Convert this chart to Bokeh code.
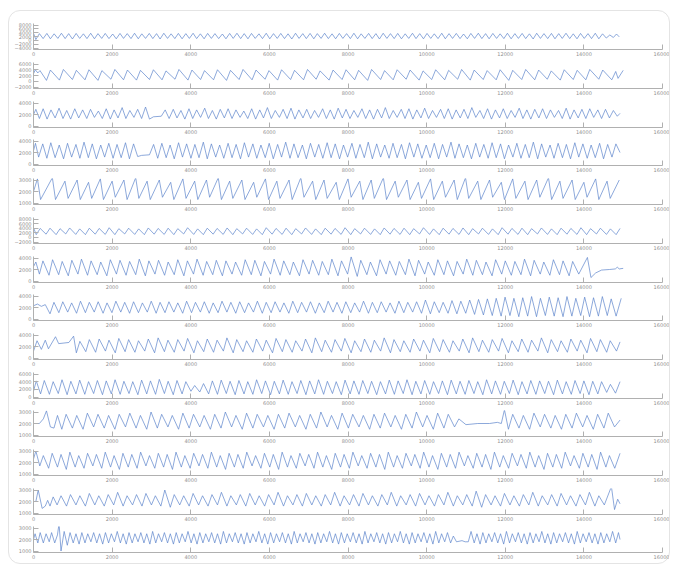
from bokeh.plotting import figure
from bokeh.layouts import column
from bokeh.models import Range1d, FixedTicker
from bokeh.embed import file_html
from bokeh.resources import INLINE

x_ticks = [0, 2000, 4000, 6000, 8000, 10000, 12000, 14000, 16000]

y_ticks = [
    [-4000, -2000, 0, 2000, 4000, 6000, 8000],
    [-2000, 0, 2000, 4000, 6000],
    [0, 2000, 4000],
    [0, 2000, 4000],
    [1000, 2000, 3000],
    [-2000, 0, 2000, 4000, 6000, 8000],
    [0, 2000, 4000],
    [0, 2000, 4000],
    [0, 2000, 4000],
    [0, 2000, 4000, 6000],
    [1000, 2000, 3000],
    [1000, 2000, 3000],
    [1000, 2000, 3000],
    [1000, 2000, 3000],
]

wave_01 = [(0,3700),(60,400),(150,3500),(245,900),(340,3600),(430,800),(525,3400),(620,1000),(710,3700),(805,900),(895,3500),(990,700),(1085,3600),(1175,1000),(1270,3400),(1360,900),(1455,3700),(1550,800),(1640,3500),(1735,1000),(1825,3600),(1920,900),(2015,3300),(2105,800),(2200,3600),(2290,1000),(2385,3500),(2480,900),(2570,3700),(2665,800),(2755,3400),(2850,1000),(2945,3600),(3035,900),(3130,3500),(3220,700),(3315,3700),(3410,1000),(3500,3400),(3595,900),(3685,3600),(3780,800),(3875,3500),(3965,1000),(4060,3700),(4150,900),(4245,3400),(4340,800),(4430,3600),(4525,1000),(4615,3500),(4710,900),(4805,3300),(4895,800),(4990,3600),(5080,1000),(5175,3700),(5270,900),(5360,3500),(5455,800),(5545,3600),(5640,1000),(5735,3400),(5825,900),(5920,3700),(6010,800),(6105,3500),(6200,1000),(6290,3600),(6385,900),(6475,3400),(6570,700),(6665,3700),(6755,1000),(6850,3500),(6940,900),(7035,3600),(7130,800),(7220,3500),(7315,1000),(7405,3700),(7500,900),(7595,3400),(7685,800),(7780,3600),(7870,1000),(7965,3500),(8060,900),(8150,3700),(8245,800),(8335,3400),(8430,1000),(8525,3600),(8615,900),(8710,3500),(8800,700),(8895,3700),(8990,1000),(9080,3500),(9175,900),(9265,3600),(9360,800),(9455,3400),(9545,1000),(9640,3700),(9730,900),(9825,3500),(9920,800),(10010,3600),(10105,1000),(10195,3400),(10290,900),(10385,3700),(10475,800),(10570,3500),(10660,1000),(10755,3600),(10850,900),(10940,3300),(11035,800),(11125,3600),(11220,1000),(11315,3700),(11405,900),(11500,3500),(11590,800),(11685,3600),(11780,1000),(11870,3400),(11965,900),(12055,3700),(12150,800),(12245,3500),(12335,1000),(12430,3600),(12520,900),(12615,3400),(12710,700),(12800,3700),(12895,1000),(12985,3500),(13080,900),(13175,3600),(13265,800),(13360,3500),(13450,1000),(13545,3700),(13640,900),(13730,3400),(13825,800),(13915,3600),(14010,1000),(14105,3500),(14195,900),(14290,3700),(14380,800),(14475,3400),(14570,1200),(14660,2800),(14750,1500),(14830,3300),(14900,1800)]

wave_02 = [(0,2600),(45,4000),(110,2900),(165,3700),(330,300),(430,3900),(660,400),(760,4100),(990,600),(1090,3800),(1310,500),(1410,4000),(1640,300),(1740,3700),(1970,700),(2070,4100),(2290,500),(2390,3900),(2620,400),(2720,3800),(2950,600),(3050,4000),(3270,500),(3370,3600),(3600,700),(3700,4100),(3930,400),(4030,3900),(4250,600),(4350,3700),(4580,500),(4680,4000),(4910,300),(5010,3800),(5230,600),(5330,4100),(5560,500),(5660,3900),(5890,700),(5990,3700),(6210,400),(6310,4000),(6540,600),(6640,3800),(6870,500),(6970,4100),(7190,700),(7290,3600),(7520,400),(7620,3900),(7850,600),(7950,4000),(8170,500),(8270,3800),(8500,300),(8600,4100),(8830,600),(8930,3700),(9150,500),(9250,4000),(9480,700),(9580,3900),(9810,400),(9910,3600),(10130,600),(10230,4000),(10460,500),(10560,3800),(10790,700),(10890,4100),(11110,400),(11210,3900),(11440,600),(11540,3700),(11770,500),(11870,4000),(12090,300),(12190,3800),(12420,600),(12520,4100),(12750,500),(12850,3900),(13070,700),(13170,3600),(13400,400),(13500,4000),(13730,600),(13830,3800),(14050,500),(14150,4100),(14380,700),(14480,3900),(14710,500),(14810,3400),(14870,1000),(15000,3800)]

wave_03 = [(0,2000),(60,2900),(150,1300),(245,3000),(345,1200),(445,2800),(550,1400),(650,3100),(750,1300),(845,2700),(945,1200),(1050,3000),(1150,1400),(1250,2800),(1355,1300),(1450,2900),(1550,1500),(1650,2600),(1750,1300),(1850,3000),(1955,1200),(2050,2800),(2150,1400),(2255,3200),(2350,1300),(2450,2700),(2555,1500),(2650,2900),(2750,1300),(2850,3300),(2950,1200),(3050,1600),(3250,1700),(3350,2800),(3450,1300),(3555,2900),(3650,1400),(3750,2700),(3850,1200),(3955,3000),(4050,1300),(4150,2800),(4250,1500),(4355,3100),(4450,1300),(4550,2700),(4650,1200),(4750,2900),(4855,1400),(4950,3000),(5050,1300),(5150,2800),(5255,1500),(5350,2600),(5450,1300),(5550,3000),(5650,1200),(5755,2800),(5850,1400),(5950,3200),(6050,1300),(6150,2700),(6255,1500),(6350,2900),(6450,1300),(6550,3100),(6650,1200),(6750,2800),(6855,1400),(6950,2900),(7050,1300),(7150,2700),(7250,1500),(7355,3000),(7450,1300),(7550,2800),(7650,1200),(7750,3100),(7855,1400),(7950,2900),(8050,1300),(8150,2700),(8250,1500),(8355,3000),(8450,1300),(8550,2800),(8650,1200),(8750,2900),(8855,1400),(8950,3200),(9050,1300),(9150,2700),(9250,1500),(9355,2900),(9450,1300),(9550,3000),(9650,1200),(9750,2800),(9855,1400),(9950,3100),(10050,1300),(10150,2700),(10250,1500),(10355,2900),(10450,1300),(10550,3000),(10650,1200),(10750,2800),(10855,1400),(10950,2900),(11050,1300),(11150,3200),(11250,1500),(11355,2700),(11450,1300),(11550,3000),(11650,1200),(11750,2800),(11855,1400),(11950,3000),(12050,1300),(12150,2700),(12250,1500),(12355,3100),(12450,1300),(12550,2800),(12650,1200),(12750,2900),(12855,1400),(12950,3000),(13050,1300),(13150,2800),(13250,1500),(13355,2700),(13450,1300),(13550,3100),(13650,1200),(13750,2800),(13855,1400),(13950,2900),(14050,1300),(14150,3000),(14250,1500),(14355,2800),(14450,1300),(14550,2900),(14650,1400),(14750,2700),(14850,1700),(14920,2200)]

wave_04 = [(0,2300),(50,3600),(130,1200),(235,3500),(340,1000),(440,3700),(550,1100),(655,3300),(765,900),(865,3600),(970,1200),(1080,3400),(1180,1000),(1285,3800),(1395,1100),(1495,3500),(1600,900),(1710,3300),(1810,1200),(1915,3600),(2025,1000),(2125,3400),(2230,1100),(2340,3700),(2440,900),(2545,3500),(2650,1300),(2750,1500),(2950,1600),(3055,3400),(3160,1000),(3265,3600),(3375,1100),(3475,3300),(3580,900),(3690,3700),(3790,1200),(3895,3500),(4005,1000),(4105,3400),(4210,1100),(4320,3800),(4420,900),(4525,3500),(4635,1200),(4735,3300),(4840,1000),(4950,3600),(5050,1100),(5155,3400),(5265,900),(5365,3700),(5470,1200),(5580,3500),(5680,1000),(5785,3300),(5895,1100),(5995,3600),(6100,900),(6210,3400),(6310,1200),(6415,3800),(6525,1000),(6625,3500),(6730,1100),(6840,3300),(6940,900),(7045,3600),(7155,1200),(7255,3400),(7360,1000),(7470,3700),(7570,1100),(7675,3500),(7785,900),(7885,3300),(7990,1200),(8100,3600),(8200,1000),(8305,3400),(8415,1100),(8515,3800),(8620,900),(8730,3500),(8830,1200),(8935,3300),(9045,1000),(9145,3600),(9250,1100),(9360,3400),(9460,900),(9565,3700),(9675,1200),(9775,3500),(9880,1000),(9990,3300),(10090,1100),(10195,3600),(10305,900),(10405,3400),(10510,1200),(10620,3800),(10720,1000),(10825,3500),(10935,1100),(11035,3300),(11140,900),(11250,3600),(11350,1200),(11455,3400),(11565,1000),(11665,3700),(11770,1100),(11880,3500),(11980,900),(12085,3300),(12195,1200),(12295,3600),(12400,1000),(12510,3400),(12610,1100),(12715,3800),(12825,900),(12925,3500),(13030,1200),(13140,3300),(13240,1000),(13345,3600),(13455,1100),(13555,3400),(13660,900),(13770,3700),(13870,1200),(13975,3500),(14085,1000),(14185,3300),(14290,1100),(14400,3600),(14500,900),(14605,3400),(14715,1200),(14815,3500),(14920,2000)]

wave_05 = [(0,2000),(100,3100),(180,1300),(480,3200),(560,1300),(800,2900),(880,1400),(1110,3000),(1190,1300),(1400,2800),(1480,1400),(1700,3100),(1780,1300),(2000,2900),(2080,1500),(2300,3000),(2380,1300),(2600,3200),(2680,1400),(2890,2900),(2970,1300),(3200,3000),(3280,1500),(3490,2800),(3570,1300),(3800,3100),(3880,1400),(4100,2900),(4180,1300),(4400,3000),(4480,1500),(4700,3200),(4780,1300),(4990,2900),(5070,1400),(5300,3000),(5380,1300),(5600,2800),(5680,1500),(5900,3100),(5980,1300),(6190,2900),(6270,1400),(6500,3000),(6580,1300),(6800,3200),(6880,1500),(7100,2900),(7180,1300),(7390,3000),(7470,1400),(7700,2800),(7780,1300),(8000,3100),(8080,1500),(8300,2900),(8380,1300),(8590,3000),(8670,1400),(8900,3200),(8980,1300),(9200,2900),(9280,1500),(9500,3000),(9580,1300),(9790,2800),(9870,1400),(10100,3100),(10180,1300),(10400,2900),(10480,1500),(10700,3000),(10780,1300),(10990,3200),(11070,1400),(11300,2900),(11380,1300),(11600,3000),(11680,1500),(11900,2800),(11980,1300),(12190,3100),(12270,1400),(12500,2900),(12580,1300),(12800,3000),(12880,1500),(13100,3200),(13180,1300),(13390,2900),(13470,1400),(13700,3000),(13780,1300),(14000,2800),(14080,1500),(14300,3100),(14380,1300),(14590,2900),(14670,1400),(14900,3000)]

wave_06 = [(0,4200),(70,1200),(170,3900),(320,1400),(420,4000),(575,1200),(675,3800),(820,1500),(920,4100),(1075,1300),(1175,3700),(1320,1200),(1420,4000),(1570,1400),(1670,3900),(1825,1300),(1925,4200),(2070,1200),(2170,3800),(2320,1500),(2420,4000),(2575,1300),(2675,3700),(2820,1200),(2920,4100),(3070,1400),(3170,3900),(3325,1300),(3425,4000),(3570,1200),(3670,3800),(3820,1500),(3920,4200),(4075,1300),(4175,3700),(4320,1200),(4420,4000),(4570,1400),(4670,3900),(4825,1300),(4925,4100),(5070,1200),(5170,3800),(5320,1500),(5420,4000),(5575,1300),(5675,3700),(5820,1200),(5920,4200),(6070,1400),(6170,3900),(6325,1300),(6425,4000),(6570,1200),(6670,3800),(6820,1500),(6920,4100),(7075,1300),(7175,3700),(7320,1200),(7420,4000),(7570,1400),(7670,3900),(7825,1300),(7925,4200),(8070,1200),(8170,3800),(8320,1500),(8420,4000),(8575,1300),(8675,3700),(8820,1200),(8920,4100),(9070,1400),(9170,3900),(9325,1300),(9425,4000),(9570,1200),(9670,3800),(9820,1500),(9920,4200),(10075,1300),(10175,3700),(10320,1200),(10420,4000),(10570,1400),(10670,3900),(10825,1300),(10925,4100),(11070,1200),(11170,3800),(11320,1500),(11420,4000),(11575,1300),(11675,3700),(11820,1200),(11920,4200),(12070,1400),(12170,3900),(12325,1300),(12425,4000),(12570,1200),(12670,3800),(12820,1500),(12920,4100),(13075,1300),(13175,3700),(13320,1200),(13420,4000),(13570,1400),(13670,3900),(13825,1300),(13925,4200),(14070,1200),(14170,3800),(14320,1500),(14420,4000),(14575,1300),(14675,3700),(14820,1200),(14920,3900)]

wave_07 = [(0,2500),(60,3300),(150,1200),(240,3500),(395,1000),(485,3700),(640,1100),(730,3400),(885,900),(975,3600),(1130,1200),(1220,3800),(1375,1000),(1465,3500),(1620,1100),(1710,3300),(1865,900),(1955,3700),(2110,1200),(2200,3600),(2355,1000),(2445,3400),(2600,1100),(2690,3800),(2845,900),(2935,3500),(3090,1200),(3180,3600),(3335,1000),(3425,3300),(3580,1100),(3670,3700),(3825,900),(3915,3500),(4070,1200),(4160,3800),(4315,1000),(4405,3400),(4560,1100),(4650,3600),(4805,900),(4895,3500),(5050,1200),(5140,3300),(5295,1000),(5385,3700),(5540,1100),(5630,3600),(5785,900),(5875,3400),(6030,1200),(6120,3800),(6275,1000),(6365,3500),(6520,1100),(6610,3300),(6765,900),(6855,3700),(7010,1200),(7100,3600),(7255,1000),(7345,3400),(7500,1100),(7590,3800),(7745,900),(7835,3500),(7990,1200),(8080,4200),(8235,800),(8325,3600),(8480,1100),(8570,3300),(8725,900),(8815,3700),(8970,1200),(9060,3500),(9215,1000),(9305,3400),(9460,1100),(9550,3800),(9705,900),(9795,3600),(9950,1200),(10040,3300),(10195,1000),(10285,3700),(10440,1100),(10530,3500),(10685,900),(10775,3400),(10930,1200),(11020,3800),(11175,1000),(11265,3600),(11420,1100),(11510,3300),(11665,900),(11755,3700),(11910,1200),(12000,3500),(12155,1000),(12245,3400),(12400,1100),(12490,3800),(12645,900),(12735,3600),(12890,1200),(12980,3300),(13135,1000),(13225,3700),(13380,1100),(13470,3500),(13625,900),(13715,3400),(13870,1200),(14090,4100),(14180,600),(14300,1400),(14450,1900),(14650,2000),(14800,2100),(14850,2400),(14900,2100),(15000,2200)]

wave_08 = [(0,2300),(100,2600),(200,2200),(300,2500),(420,900),(520,2900),(645,1100),(745,3000),(870,1200),(970,2800),(1095,1000),(1195,3100),(1320,1100),(1420,2900),(1545,1200),(1645,3000),(1770,1000),(1870,2800),(1995,1100),(2095,3100),(2220,1200),(2320,2900),(2445,1000),(2545,3000),(2670,1100),(2770,2800),(2895,1200),(2995,3100),(3120,1000),(3220,2900),(3345,1100),(3445,3000),(3570,1200),(3670,2800),(3795,1000),(3895,3100),(4020,1100),(4120,2900),(4245,1200),(4345,3000),(4470,1000),(4570,2800),(4695,1100),(4795,3100),(4920,1200),(5020,2900),(5145,1000),(5245,3000),(5370,1100),(5470,2800),(5595,1200),(5695,3100),(5820,1000),(5920,2900),(6045,1100),(6145,3000),(6270,1200),(6370,2800),(6495,1000),(6595,3100),(6720,1100),(6820,2900),(6945,1200),(7045,3000),(7170,1000),(7270,2800),(7395,1100),(7495,3100),(7620,1200),(7720,2900),(7845,1000),(7945,3000),(8070,1100),(8170,2800),(8295,1200),(8395,3100),(8520,1000),(8620,2900),(8745,1100),(8845,3000),(8970,1200),(9070,2800),(9195,1000),(9295,3100),(9420,1100),(9520,2900),(9645,1200),(9745,3000),(9870,1000),(9970,3300),(10095,900),(10195,3000),(10320,1100),(10420,2900),(10545,1000),(10645,3200),(10770,900),(10870,3100),(10995,1000),(11095,3300),(11220,800),(11320,3400),(11445,700),(11545,3500),(11670,600),(11770,3600),(11895,500),(11995,3800),(12120,600),(12220,3600),(12345,400),(12445,3700),(12570,500),(12670,3900),(12795,400),(12895,3600),(13020,600),(13120,3800),(13245,500),(13345,3700),(13470,400),(13570,3900),(13695,500),(13795,3600),(13920,600),(14020,3800),(14145,400),(14245,3700),(14370,500),(14470,3900),(14595,600),(14695,3500),(14820,500),(14950,3600)]

wave_09 = [(0,1200),(90,3000),(200,1500),(300,3100),(380,1600),(560,3700),(640,2500),(900,2700),(1020,3800),(1090,900),(1180,2900),(1330,1100),(1420,3200),(1580,1000),(1670,3300),(1830,1200),(1920,3100),(2080,900),(2170,3400),(2330,1100),(2420,3200),(2580,1000),(2670,3000),(2830,1200),(2920,3300),(3080,900),(3170,3500),(3330,1100),(3420,3100),(3580,1000),(3670,3200),(3830,1200),(3920,3400),(4080,900),(4170,3000),(4330,1100),(4420,3300),(4580,1000),(4670,3100),(4830,1200),(4920,3500),(5080,900),(5170,3200),(5330,1100),(5420,3000),(5580,1000),(5670,3300),(5830,1200),(5920,3100),(6080,900),(6170,3400),(6330,1100),(6420,3200),(6580,1000),(6670,3000),(6830,1200),(6920,3300),(7080,900),(7170,3500),(7330,1100),(7420,3100),(7580,1000),(7670,3200),(7830,1200),(7920,3400),(8080,900),(8170,3000),(8330,1100),(8420,3300),(8580,1000),(8670,3100),(8830,1200),(8920,3500),(9080,900),(9170,3200),(9330,1100),(9420,3000),(9580,1000),(9670,3300),(9830,1200),(9920,3100),(10080,900),(10170,3400),(10330,1100),(10420,3200),(10580,1000),(10670,3000),(10830,1200),(10920,3300),(11080,900),(11170,3500),(11330,1100),(11420,3100),(11580,1000),(11670,3200),(11830,1200),(11920,3400),(12080,900),(12170,3000),(12330,1100),(12420,3300),(12580,1000),(12670,3100),(12830,1200),(12920,3500),(13080,900),(13170,3200),(13330,1100),(13420,3000),(13580,1000),(13670,3300),(13830,1200),(13920,3100),(14080,900),(14170,3400),(14330,1100),(14420,3200),(14580,1000),(14670,3000),(14830,1200),(14920,2800)]

wave_10 = [(0,1500),(70,4200),(180,800),(275,4300),(405,700),(500,4000),(630,900),(725,4500),(855,600),(950,4100),(1080,800),(1175,4400),(1305,700),(1400,4000),(1530,900),(1625,4300),(1755,600),(1850,4200),(1980,800),(2075,4500),(2205,700),(2300,4100),(2430,900),(2525,4000),(2655,600),(2750,4400),(2880,800),(2975,4200),(3105,700),(3200,4600),(3330,900),(3425,4100),(3555,600),(3650,4300),(3780,800),(3875,4000),(4005,1500),(4100,3000),(4230,1300),(4325,3500),(4455,800),(4550,4200),(4680,700),(4775,4400),(4905,900),(5000,4100),(5130,600),(5225,4300),(5355,800),(5450,4000),(5580,700),(5675,4500),(5805,900),(5900,4200),(6030,600),(6125,4100),(6255,800),(6350,4400),(6480,700),(6575,4000),(6705,900),(6800,4300),(6930,600),(7025,4200),(7155,800),(7250,4500),(7380,700),(7475,4100),(7605,900),(7700,4000),(7830,600),(7925,4400),(8055,800),(8150,4200),(8280,700),(8375,4300),(8505,900),(8600,4100),(8730,600),(8825,4000),(8955,800),(9050,4400),(9180,700),(9275,4200),(9405,900),(9500,4500),(9630,600),(9725,4100),(9855,800),(9950,4300),(10080,700),(10175,4000),(10305,900),(10400,4200),(10530,600),(10625,4400),(10755,800),(10850,4100),(10980,700),(11075,4300),(11205,900),(11300,4000),(11430,600),(11525,4500),(11655,800),(11750,4200),(11880,700),(11975,4100),(12105,900),(12200,4400),(12330,600),(12425,4000),(12555,800),(12650,4300),(12780,700),(12875,4200),(13005,900),(13100,4100),(13230,600),(13325,4400),(13455,800),(13550,4000),(13680,700),(13775,4300),(13905,900),(14000,4200),(14130,600),(14225,4100),(14355,800),(14450,4000),(14580,1200),(14675,3300),(14805,1000),(14920,4000)]

wave_11 = [(0,2000),(150,2000),(250,2400),(330,3100),(430,1700),(520,1600),(610,2700),(720,1500),(830,2800),(990,1600),(1100,2700),(1260,1500),(1370,2900),(1530,1700),(1640,2800),(1800,1600),(1910,2700),(2070,1500),(2180,2800),(2340,1700),(2450,2900),(2610,1600),(2720,2700),(2880,1500),(2990,3000),(3150,1600),(3260,2800),(3420,1700),(3530,2700),(3690,1500),(3800,2900),(3960,1600),(4070,2800),(4230,1700),(4340,2700),(4500,1500),(4610,2800),(4770,1600),(4880,3000),(5040,1700),(5150,2700),(5310,1500),(5420,2900),(5580,1600),(5690,2800),(5850,1700),(5960,2700),(6120,1500),(6230,2800),(6390,1600),(6500,2900),(6660,1700),(6770,2700),(6930,1500),(7040,2800),(7200,1600),(7310,3000),(7470,1700),(7580,2700),(7740,1500),(7850,2900),(8010,1600),(8120,2800),(8280,1700),(8390,2700),(8550,1500),(8660,2800),(8820,1600),(8930,2900),(9090,1700),(9200,2700),(9360,1500),(9470,2800),(9630,1600),(9740,3000),(9900,1700),(10010,2700),(10170,1500),(10280,2900),(10440,1600),(10550,2800),(10710,1700),(10820,2400),(11000,1900),(11300,2000),(11600,2000),(11800,2100),(11900,2000),(11980,3200),(12080,1500),(12190,2800),(12350,1600),(12460,2700),(12620,1500),(12730,2900),(12890,1700),(13000,2800),(13160,1600),(13270,2700),(13430,1500),(13540,2800),(13700,1600),(13810,2900),(13970,1700),(14080,2700),(14240,1500),(14350,2800),(14510,1600),(14620,2900),(14780,1700),(14920,2300)]

wave_12 = [(0,2300),(60,3000),(160,1700),(250,2600),(385,1500),(475,2800),(610,1600),(700,2700),(835,1400),(925,2900),(1060,1600),(1150,2600),(1285,1500),(1375,2800),(1510,1700),(1600,2700),(1735,1500),(1825,2900),(1960,1600),(2050,2600),(2185,1400),(2275,2800),(2410,1600),(2500,2700),(2635,1500),(2725,2900),(2860,1700),(2950,2600),(3085,1500),(3175,2800),(3310,1600),(3400,2700),(3535,1400),(3625,2900),(3760,1600),(3850,2600),(3985,1500),(4075,2800),(4210,1700),(4300,2700),(4435,1500),(4525,2900),(4660,1600),(4750,2600),(4885,1400),(4975,2800),(5110,1600),(5200,2700),(5335,1500),(5425,2900),(5560,1700),(5650,2600),(5785,1500),(5875,2800),(6010,1600),(6100,2700),(6235,1400),(6325,2900),(6460,1600),(6550,2600),(6685,1500),(6775,2800),(6910,1700),(7000,2700),(7135,1500),(7225,2900),(7360,1600),(7450,2600),(7585,1400),(7675,2800),(7810,1600),(7900,2700),(8035,1500),(8125,2900),(8260,1700),(8350,2600),(8485,1500),(8575,2800),(8710,1600),(8800,2700),(8935,1400),(9025,2900),(9160,1600),(9250,2600),(9385,1500),(9475,2800),(9610,1700),(9700,2700),(9835,1500),(9925,2900),(10060,1600),(10150,2600),(10285,1400),(10375,2800),(10510,1600),(10600,2700),(10735,1500),(10825,2900),(10960,1700),(11050,2600),(11185,1500),(11275,2800),(11410,1600),(11500,2700),(11635,1400),(11725,2900),(11860,1600),(11950,2600),(12085,1500),(12175,2800),(12310,1700),(12400,2700),(12535,1500),(12625,2900),(12760,1600),(12850,2600),(12985,1400),(13075,2800),(13210,1600),(13300,2700),(13435,1500),(13525,2900),(13660,1700),(13750,2600),(13885,1500),(13975,2800),(14110,1600),(14200,2700),(14335,1400),(14425,2900),(14560,1600),(14650,2600),(14785,1500),(14920,2800)]

wave_13 = [(0,2000),(60,2000),(120,3000),(220,1400),(300,1600),(360,2100),(420,1600),(500,2400),(600,1700),(700,2500),(840,1600),(940,2600),(1080,1700),(1180,2500),(1320,1600),(1420,2700),(1560,1700),(1660,2500),(1800,1600),(1900,2600),(2040,1700),(2140,2800),(2280,1600),(2380,2500),(2520,1700),(2620,2600),(2760,1600),(2860,2700),(3000,1700),(3100,2500),(3240,1600),(3340,3000),(3480,1500),(3580,2600),(3720,1700),(3820,2500),(3960,1600),(4060,2700),(4200,1700),(4300,2500),(4440,1600),(4540,2600),(4680,1700),(4780,2800),(4920,1600),(5020,2500),(5160,1700),(5260,2600),(5400,1600),(5500,2700),(5640,1700),(5740,2500),(5880,1600),(5980,2600),(6120,1700),(6220,2800),(6360,1600),(6460,2500),(6600,1700),(6700,2600),(6840,1600),(6940,2700),(7080,1700),(7180,2500),(7320,1600),(7420,2600),(7560,1700),(7660,2800),(7800,1600),(7900,2500),(8040,1700),(8140,2600),(8280,1600),(8380,2700),(8520,1700),(8620,2500),(8760,1600),(8860,2600),(9000,1700),(9100,2800),(9240,1600),(9340,2500),(9480,1700),(9580,2600),(9720,1600),(9820,2700),(9960,1700),(10060,2500),(10200,1600),(10300,2600),(10440,1700),(10540,2800),(10680,1600),(10780,2500),(10920,1700),(11020,2600),(11160,1600),(11260,2900),(11400,1500),(11500,2600),(11640,1700),(11740,2500),(11880,1600),(11980,2700),(12120,1700),(12220,2500),(12360,1600),(12460,2600),(12600,1700),(12700,2800),(12840,1600),(12940,2500),(13080,1700),(13180,2600),(13320,1600),(13420,2700),(13560,1700),(13660,2500),(13800,1600),(13900,2600),(14040,1700),(14140,2800),(14280,1600),(14380,2500),(14520,1700),(14700,3300),(14780,1300),(14860,2200),(14920,1800)]

wave_14 = [(0,2000),(40,2500),(110,1700),(170,2600),(250,1700),(320,2500),(400,1800),(460,2600),(540,1700),(610,2400),(650,3400),(700,1000),(780,2700),(860,1500),(930,2600),(1010,1700),(1080,2500),(1160,1600),(1230,2600),(1310,1700),(1380,2500),(1460,1800),(1530,2600),(1610,1700),(1680,2500),(1760,1600),(1830,2600),(1910,1700),(1980,2500),(2060,1800),(2130,2700),(2210,1700),(2280,2500),(2360,1600),(2430,2600),(2510,1700),(2580,2500),(2660,1800),(2730,2600),(2810,1700),(2880,2500),(2960,1600),(3030,2700),(3110,1700),(3180,2500),(3260,1800),(3330,2600),(3410,1700),(3480,2500),(3560,1600),(3630,2600),(3710,1700),(3780,2500),(3860,1800),(3930,2700),(4010,1700),(4080,2500),(4160,1600),(4230,2600),(4310,1700),(4380,2500),(4460,1800),(4530,2600),(4610,1700),(4680,2500),(4760,1600),(4830,2700),(4910,1700),(4980,2500),(5060,1800),(5130,2600),(5210,1700),(5280,2500),(5360,1600),(5430,2600),(5510,1700),(5580,2500),(5660,1800),(5730,2700),(5810,1700),(5880,2500),(5960,1600),(6030,2600),(6110,1700),(6180,2500),(6260,1800),(6330,2600),(6410,1700),(6480,2500),(6560,1600),(6630,2700),(6710,1700),(6780,2500),(6860,1800),(6930,2600),(7010,1700),(7080,2500),(7160,1600),(7230,2600),(7310,1700),(7380,2500),(7460,1800),(7530,2700),(7610,1700),(7680,2500),(7760,1600),(7830,2600),(7910,1700),(7980,2500),(8060,1800),(8130,2600),(8210,1700),(8280,2500),(8360,1600),(8430,2700),(8510,1700),(8580,2500),(8660,1800),(8730,2600),(8810,1700),(8880,2500),(8960,1600),(9030,2600),(9110,1700),(9180,2500),(9260,1800),(9330,2700),(9410,1700),(9480,2500),(9560,1600),(9630,2600),(9710,1700),(9780,2500),(9860,1800),(9930,2600),(10010,1700),(10080,2500),(10160,1600),(10230,2700),(10310,1700),(10380,2500),(10460,1800),(10530,2600),(10610,1700),(10680,2300),(10760,1800),(10900,1900),(10980,1800),(11060,1800),(11130,2700),(11210,1700),(11280,2500),(11360,1600),(11430,2600),(11510,1700),(11580,2500),(11660,1800),(11730,2600),(11810,1700),(11880,2500),(11960,1600),(12030,2700),(12110,1700),(12180,2500),(12260,1800),(12330,2600),(12410,1700),(12480,2500),(12560,1600),(12630,2600),(12710,1700),(12780,2500),(12860,1800),(12930,2700),(13010,1700),(13080,2500),(13160,1600),(13230,2600),(13310,1700),(13380,2500),(13460,1800),(13530,2600),(13610,1700),(13680,2500),(13760,1600),(13830,2700),(13910,1700),(13980,2500),(14060,1800),(14130,2600),(14210,1700),(14280,2500),(14360,1600),(14430,2600),(14510,1700),(14580,2500),(14660,1800),(14730,2700),(14810,1700),(14880,2600),(14920,2000)]

waves = [wave_01, wave_02, wave_03, wave_04, wave_05, wave_06, wave_07,
         wave_08, wave_09, wave_10, wave_11, wave_12, wave_13, wave_14]

LINE = "#5b84cc"
AXIS = "#b0b0b0"
LABEL = "#909090"
FONT = "DejaVu Sans"

FRAME_H = 26
BOTTOM = 11
TOP0 = 11
figs = []
prev_bottom = TOP0
for k, (pts, ticks) in enumerate(zip(waves, y_ticks)):
    axis_y = round(49.3 + 38.7 * k)
    frame_top = axis_y - FRAME_H
    t = frame_top - prev_bottom
    h = t + FRAME_H + BOTTOM
    prev_bottom = axis_y + BOTTOM
    lo, hi = ticks[0], ticks[-1]
    pp = (hi - lo) / 23.0
    y0 = lo - 1.5 * pp
    y1 = y0 + FRAME_H * pp
    p = figure(width=660, height=h, x_range=Range1d(0, 16000), y_range=Range1d(y0, y1),
               min_border_left=24, min_border_right=7, min_border_top=t,
               min_border_bottom=BOTTOM, toolbar_location=None, output_backend="svg")
    p.outline_line_color = None
    p.grid.visible = False
    p.background_fill_color = None
    p.border_fill_color = None
    xs = [a for a, b in pts]
    ys = [b for a, b in pts]
    p.line(xs, ys, line_color=LINE, line_width=0.7, line_join="round")
    for ax in (p.xaxis, p.yaxis):
        ax.axis_line_color = AXIS
        ax.major_tick_line_color = AXIS
        ax.minor_tick_line_color = AXIS
        ax.major_tick_in = 5
        ax.major_tick_out = 0
        ax.minor_tick_in = 0
        ax.minor_tick_out = 0
        ax.major_label_text_font_size = "5px"
        ax.major_label_text_color = LABEL
        ax.major_label_text_font = FONT
        ax.major_label_standoff = 2
    p.xaxis.ticker = FixedTicker(ticks=x_ticks)
    p.yaxis.ticker = FixedTicker(ticks=ticks)
    figs.append(p)

layout = column(*figs, spacing=0, margin=(10, 0, 0, 8),
                styles={"border": "1px solid #e4e4e4", "border-radius": "12px"})

open("out.html", "w").write(file_html(layout, INLINE))
